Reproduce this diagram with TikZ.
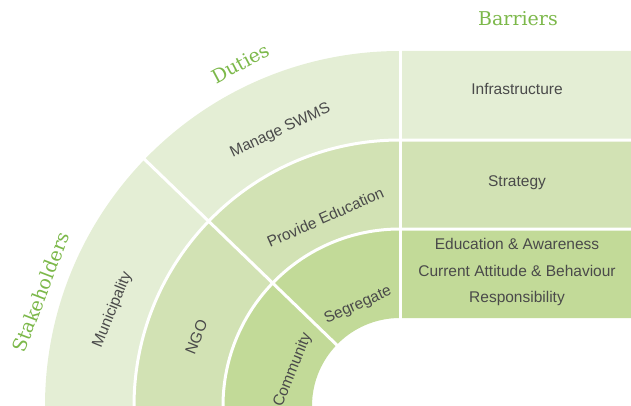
\documentclass[tikz,border=0pt]{standalone}
\usepackage{fontspec}
\setmainfont{Liberation Sans}
\newfontfamily\headfont{DejaVu Serif}

\definecolor{ringout}{HTML}{E4EED5}
\definecolor{ringmid}{HTML}{D2E2B4}
\definecolor{ringin}{HTML}{C2DA98}
\definecolor{headgreen}{HTML}{7CB84A}
\definecolor{labelgray}{HTML}{4A4A4A}

\begin{document}
\begin{tikzpicture}[x=1pt,y=1pt]

% Define styles
\tikzstyle{item} = [text=labelgray, font=\fontsize{15.5}{26.5}\selectfont, inner sep=0pt]
\tikzstyle{head} = [text=headgreen, font=\headfont\fontsize{19}{22}\selectfont, inner sep=0pt]
\tikzstyle{gap} = [white, line width=3pt]

\useasboundingbox (0,0) rectangle (631,405);
\clip (0,0) rectangle (631,405);
\coordinate (C) at (400,-1);

% Rings, each one running on into its row on the right
\fill[ringout] ([shift={(180:355)}]C) arc[start angle=180, end angle=90, radius=355] -- (631,354) -- (631,265)
  -- ([shift={(90:266)}]C) arc[start angle=90, end angle=180, radius=266] -- cycle;
\fill[ringmid] ([shift={(180:266)}]C) arc[start angle=180, end angle=90, radius=266] -- (631,265) -- (631,176)
  -- ([shift={(90:177)}]C) arc[start angle=90, end angle=180, radius=177] -- cycle;
\fill[ringin] ([shift={(180:177)}]C) arc[start angle=180, end angle=90, radius=177] -- (631,176) -- (631,87)
  -- ([shift={(90:88)}]C) arc[start angle=90, end angle=180, radius=88] -- cycle;

% White gaps
\draw[gap] ([shift={(180:266)}]C) arc[start angle=180, end angle=90, radius=266] -- (631,265);
\draw[gap] ([shift={(180:177)}]C) arc[start angle=180, end angle=90, radius=177] -- (631,176);
\draw[gap] (400.5,356) -- (400.5,85);
\draw[gap] ([shift={(136:80)}]C) -- ([shift={(136:360)}]C);

% Nodes
\node[item, rotate=25] (manage) at ([shift={(113.5:300)}]C) {Manage SWMS};
\node[item, rotate=24] (provide) at ([shift={(111.6:203)}]C) {Provide Education};
\node[item, rotate=24] (segregate) at ([shift={(112.6:109)}]C) {Segregate};
\node[item, rotate=68] (municipality) at ([shift={(161.5:303)}]C) {Municipality};
\node[item, rotate=68] (ngo) at ([shift={(161.3:215)}]C) {NGO};
\node[item, rotate=68] (community) at ([shift={(161.4:113)}]C) {Community};

\node[item] (infra) at (517,316) {Infrastructure};
\node[item] (strategy) at (517,222) {Strategy};
\node[item, align=center] (issues) at (517,133) {Education \& Awareness\\Current Attitude \& Behaviour\\Responsibility};

% Headings
\node[head] (barriers) at (518,386) {Barriers};
\node[head, rotate=28] (duties) at ([shift={(115:378)}]C) {Duties};
\node[head, rotate=69] (stakeholders) at ([shift={(162.4:377)}]C) {Stakeholders};

\end{tikzpicture}
\end{document}
